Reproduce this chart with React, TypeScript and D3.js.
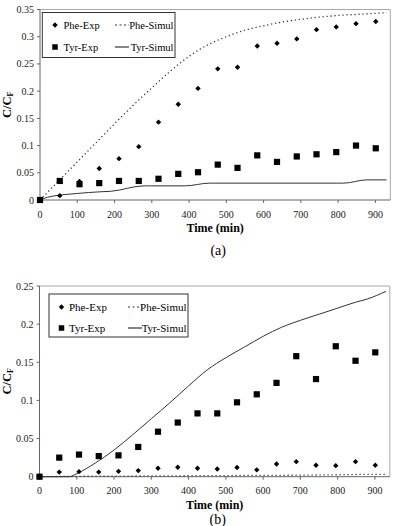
import React from "react";
import * as d3 from "d3";

// sampling times (min) for the experimental points
const expTimes = [0, 53, 106, 159, 212, 265, 318, 371, 424, 477, 530, 583, 636, 689, 742, 795, 848, 901];

// panel (a)
const pheExpA = [0, 0.008, 0.034, 0.058, 0.076, 0.098, 0.143, 0.176, 0.205, 0.241, 0.244, 0.283, 0.288, 0.296, 0.313, 0.318, 0.324, 0.328];
const tyrExpA = [0, 0.035, 0.029, 0.031, 0.035, 0.035, 0.039, 0.048, 0.051, 0.065, 0.059, 0.082, 0.070, 0.080, 0.084, 0.088, 0.100, 0.095];
const pheSimA: [number, number][] = [
  [0, 0], [50, 0.035], [100, 0.07], [150, 0.105], [200, 0.14], [250, 0.174], [300, 0.206],
  [350, 0.237], [400, 0.264], [450, 0.285], [500, 0.3], [550, 0.312], [600, 0.32], [650, 0.327],
  [700, 0.332], [750, 0.336], [800, 0.339], [850, 0.341], [900, 0.343], [930, 0.344],
];
const tyrSimA: [number, number][] = [
  [0, 0], [20, 0.005], [100, 0.012], [160, 0.015], [190, 0.016], [280, 0.026], [390, 0.026],
  [455, 0.031], [815, 0.031], [877, 0.037], [930, 0.037],
];

// panel (b)
const pheExpB = [0, 0.006, 0.0066, 0.006, 0.007, 0.008, 0.011, 0.0123, 0.011, 0.010, 0.012, 0.009, 0.0166, 0.0197, 0.015, 0.0145, 0.0197, 0.015];
const tyrExpB = [0, 0.025, 0.029, 0.027, 0.028, 0.039, 0.059, 0.071, 0.083, 0.083, 0.0975, 0.108, 0.123, 0.158, 0.128, 0.171, 0.152, 0.163];
const pheSimB: [number, number][] = [
  [0, 0], [100, 0.0005], [300, 0.001], [500, 0.0015], [700, 0.002], [900, 0.003], [930, 0.003],
];
const tyrSimB: [number, number][] = [
  [0, 0], [80, 0], [100, 0.004], [150, 0.018], [200, 0.035], [250, 0.055], [300, 0.076],
  [350, 0.097], [400, 0.119], [450, 0.14], [500, 0.156], [550, 0.17], [600, 0.184],
  [650, 0.196], [700, 0.205], [750, 0.213], [800, 0.221], [850, 0.229], [880, 0.233], [930, 0.243],
];

const xTicks = [0, 100, 200, 300, 400, 500, 600, 700, 800, 900];
const yTicksA = [0, 0.05, 0.1, 0.15, 0.2, 0.25, 0.3, 0.35];
const yTicksB = [0, 0.05, 0.1, 0.15, 0.2, 0.25];
const legendNames = ["Phe-Exp", "Phe-Simul", "Tyr-Exp", "Tyr-Simul"];

const FONT = '"Liberation Serif", "Times New Roman", "DejaVu Serif", serif';

function Diamond({ x, y, r = 2.7 }: { x: number; y: number; r?: number }) {
  return <path d={`M${x},${y - r}L${x + r},${y}L${x},${y + r}L${x - r},${y}Z`} fill="#000" />;
}
function Square({ x, y, s = 6.2 }: { x: number; y: number; s?: number }) {
  return <rect x={x - s / 2} y={y - s / 2} width={s} height={s} fill="#000" />;
}

function Panel(props: any) {
  const { left, right, top, bottom, yMax, yTicks, pheExp, tyrExp, pheSim, tyrSim, label, labelY, lg } = props;
  const x = d3.scaleLinear().domain([0, 940]).range([left, right]);
  const y = d3.scaleLinear().domain([0, yMax]).range([bottom, top]);
  const line = d3.line<[number, number]>()
    .x(d => x(d[0]))
    .y(d => y(d[1]))
    .curve(d3.curveMonotoneX);
  const fmt = (v: number) => (v === 0 ? "0" : String(+v.toFixed(2)));
  const midY = (top + bottom) / 2;

  return (
    <g style={{ fontFamily: FONT }}>
      {/* plot frame */}
      <line x1={left} x2={right} y1={top} y2={top} stroke="#a8a8a8" />
      <line x1={right} x2={right} y1={top} y2={bottom} stroke="#a8a8a8" />
      <line x1={left} x2={left} y1={top} y2={bottom} stroke="#666" />
      <line x1={left} x2={right} y1={bottom} y2={bottom} stroke="#666" />

      {yTicks.map((t: number) => (
        <g key={"y" + t}>
          <line x1={left - 3} x2={left} y1={y(t)} y2={y(t)} stroke="#666" />
          <text x={left - 6} y={y(t)} dy="0.35em" textAnchor="end" fontSize={10} fill="#222">{fmt(t)}</text>
        </g>
      ))}
      {xTicks.map(t => (
        <g key={"x" + t}>
          <line x1={x(t)} x2={x(t)} y1={bottom} y2={bottom + 3} stroke="#666" />
          <text x={x(t)} y={bottom + 14} dy="0.35em" textAnchor="middle" fontSize={10} fill="#222">{t}</text>
        </g>
      ))}

      <text x={(left + right) / 2} y={bottom + 28} dy="0.35em" textAnchor="middle" fontSize={12} fontWeight="bold">Time (min)</text>
      <text transform={`translate(10.5,${midY}) rotate(-90)`} textAnchor="middle" fontSize={12.5} fontWeight="bold">
        C/C<tspan fontSize={8} dy={2.5}>F</tspan>
      </text>
      <text x={(left + right) / 2 + 3} y={labelY} dy="0.35em" textAnchor="middle" fontSize={14}>{label}</text>

      {/* simulated curves */}
      <path d={line(pheSim) || ""} fill="none" stroke="#333" strokeWidth={1.3} strokeDasharray="1.2 2.8" />
      <path d={line(tyrSim) || ""} fill="none" stroke="#333" strokeWidth={1} />

      {/* experimental points */}
      {tyrExp.map((v: number, i: number) => <Square key={"t" + i} x={x(expTimes[i])} y={y(v)} />)}
      {pheExp.map((v: number, i: number) => <Diamond key={"p" + i} x={x(expTimes[i])} y={y(v)} />)}

      {/* legend */}
      <rect x={lg.x} y={lg.y} width={lg.w} height={lg.h} fill="#fff" stroke="#333" strokeWidth={1} />
      <Diamond x={lg.mx} y={lg.rows[0]} />
      <text x={lg.tx} y={lg.rows[0]} dy="0.35em" fontSize={lg.fs}>{legendNames[0]}</text>
      <line x1={lg.l1} x2={lg.l2} y1={lg.rows[0]} y2={lg.rows[0]} stroke="#333" strokeDasharray="2 2.5" />
      <text x={lg.te} y={lg.rows[0]} dy="0.35em" textAnchor="end" fontSize={lg.fs}>{legendNames[1]}</text>
      <Square x={lg.mx} y={lg.rows[1]} s={5.5} />
      <text x={lg.tx} y={lg.rows[1]} dy="0.35em" fontSize={lg.fs}>{legendNames[2]}</text>
      <line x1={lg.l1} x2={lg.l2} y1={lg.rows[1]} y2={lg.rows[1]} stroke="#333" strokeWidth={1.2} />
      <text x={lg.te} y={lg.rows[1]} dy="0.35em" textAnchor="end" fontSize={lg.fs}>{legendNames[3]}</text>
    </g>
  );
}

export default function App() {
  return (
    <svg width={401} height={526} style={{ position: "absolute", left: 0, top: 0, background: "#fff" }}>
      <rect width={401} height={526} fill="#fff" />
      <Panel
        left={40} right={390.3} top={9.5} bottom={200} yMax={0.35} yTicks={yTicksA}
        pheExp={pheExpA} tyrExp={tyrExpA} pheSim={pheSimA} tyrSim={tyrSimA}
        label="(a)" labelY={250}
        lg={{ x: 42.3, y: 12.5, w: 132.7, h: 45, mx: 55, tx: 63.5, l1: 115, l2: 129, te: 173.5, rows: [25, 47], fs: 10.5 }}
      />
      <Panel
        left={39.5} right={389.8} top={286} bottom={476.7} yMax={0.25} yTicks={yTicksB}
        pheExp={pheExpB} tyrExp={tyrExpB} pheSim={pheSimB} tyrSim={tyrSimB}
        label="(b)" labelY={519}
        lg={{ x: 49, y: 294, w: 139, h: 43, mx: 61.5, tx: 69, l1: 128, l2: 142, te: 186.5, rows: [307, 328], fs: 11 }}
      />
    </svg>
  );
}
